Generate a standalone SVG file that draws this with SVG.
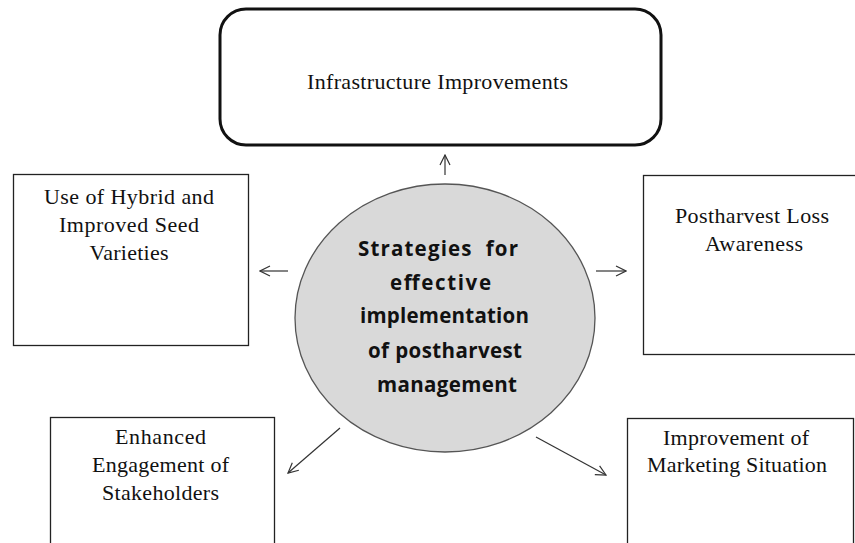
<svg xmlns="http://www.w3.org/2000/svg" width="855" height="543" viewBox="0 0 855 543">
<style>
.box{fill:#fff;stroke:#222;stroke-width:1.3}
.t{font-family:"Liberation Serif","Times New Roman",serif;font-size:22px;fill:#111;text-anchor:middle}
.c{font-family:"Open Sans","Liberation Sans",sans-serif;font-weight:bold;font-size:20.5px;fill:#111;text-anchor:middle}
.ar{stroke:#333;stroke-width:1.2;fill:none;marker-end:url(#ah)}
</style>
<defs>
<marker id="ah" viewBox="0 0 12 12" refX="11" refY="6" markerWidth="12" markerHeight="12" markerUnits="userSpaceOnUse" orient="auto">
<path d="M1,1 L11,6 L1,11" fill="none" stroke="#333" stroke-width="1.2"/>
</marker>
</defs>
<rect width="855" height="543" fill="#fff"/>
<g id="infrastructure">
<rect x="220" y="9" width="441" height="136" rx="26" ry="26" fill="#fff" stroke="#111" stroke-width="3"/>
<text class="t" x="437.5" y="89" textLength="261" lengthAdjust="spacing">Infrastructure Improvements</text>
</g>
<g id="seed">
<rect class="box" x="13.5" y="174.5" width="235" height="171"/>
<text class="t" x="129" y="204" textLength="170" lengthAdjust="spacing">Use of Hybrid and</text>
<text class="t" x="129" y="232" textLength="140" lengthAdjust="spacing">Improved Seed</text>
<text class="t" x="129" y="260" textLength="79" lengthAdjust="spacing">Varieties</text>
</g>
<g id="awareness">
<rect class="box" x="643.5" y="175.5" width="215" height="179"/>
<text class="t" x="752" y="223" textLength="154" lengthAdjust="spacing">Postharvest Loss</text>
<text class="t" x="754" y="251" textLength="98" lengthAdjust="spacing">Awareness</text>
</g>
<g id="center">
<ellipse cx="445" cy="318" rx="150" ry="134" fill="#d9d9d9" stroke="#555" stroke-width="1.3"/>
<text class="c" x="438" y="256" textLength="160" lengthAdjust="spacing" xml:space="preserve">Strategies  for</text>
<text class="c" x="440.5" y="290" textLength="101" lengthAdjust="spacing">effective</text>
<text class="c" x="444.5" y="323" textLength="169" lengthAdjust="spacing">implementation</text>
<text class="c" x="445" y="358" textLength="154" lengthAdjust="spacing">of postharvest</text>
<text class="c" x="447" y="392" textLength="140" lengthAdjust="spacing">management</text>
</g>
<g id="stakeholders">
<rect class="box" x="50.5" y="417.5" width="224" height="140"/>
<text class="t" x="160.5" y="444" textLength="91" lengthAdjust="spacing">Enhanced</text>
<text class="t" x="160.5" y="472" textLength="137" lengthAdjust="spacing">Engagement of</text>
<text class="t" x="160.5" y="500" textLength="117" lengthAdjust="spacing">Stakeholders</text>
</g>
<g id="marketing">
<rect class="box" x="627.5" y="418.5" width="226" height="140"/>
<text class="t" x="736" y="445" textLength="146" lengthAdjust="spacing">Improvement of</text>
<text class="t" x="737" y="472" textLength="180" lengthAdjust="spacing">Marketing Situation</text>
</g>
<g id="connectors">
<line class="ar" x1="445" y1="175" x2="445" y2="155"/>
<line class="ar" x1="288" y1="271" x2="260" y2="271"/>
<line class="ar" x1="596" y1="271" x2="626" y2="271"/>
<line class="ar" x1="340" y1="428" x2="288" y2="473"/>
<line class="ar" x1="536" y1="437" x2="606" y2="475"/>
</g>
</svg>
